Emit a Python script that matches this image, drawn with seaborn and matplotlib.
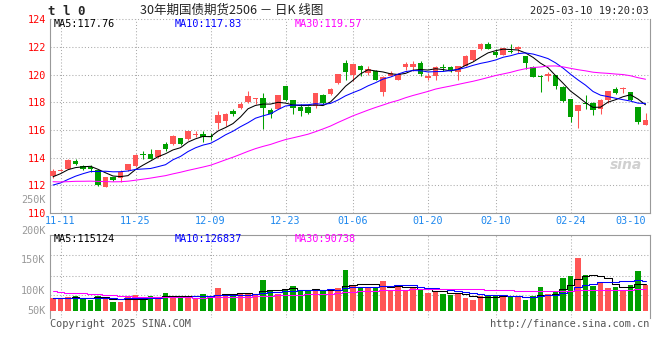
import matplotlib
matplotlib.use("Agg")
import matplotlib.pyplot as plt
import numpy as np
import pandas as pd
import seaborn as sns

# TL0 daily K-line, 2024-11-08 .. 2025-03-10 (80 sessions)
open_ = [112.70, 113.05, 113.20, 113.73, 113.40, 113.33, 113.10, 111.90, 112.62, 112.50,
         113.10, 113.38, 114.30, 114.30, 114.05, 115.00, 115.00, 115.40, 115.35, 115.65,
         115.70, 115.55, 116.50, 116.67, 117.38, 117.62, 118.02, 118.26, 118.33, 117.43,
         117.55, 119.17, 118.14, 117.67, 117.67, 117.74, 118.50, 118.57, 119.40, 120.83,
         120.00, 120.64, 120.12, 120.24, 118.74, 119.93, 119.64, 120.52, 120.55, 120.83,
         119.76, 119.88, 120.55, 120.52, 120.16, 120.66, 121.07, 121.88, 122.21, 121.66,
         121.43, 121.70, 121.88, 121.35, 120.54, 119.83, 119.88, 119.95, 119.12, 118.21,
         117.38, 117.90, 117.93, 117.50, 118.16, 118.97, 118.93, 118.78, 117.69, 116.36]
high = [113.20, 113.15, 113.90, 113.93, 113.50, 113.45, 113.10, 112.62, 112.62, 113.10,
        113.55, 114.30, 114.50, 114.64, 114.55, 115.12, 115.62, 115.45, 115.95, 115.95,
        115.95, 115.75, 117.38, 117.21, 117.50, 118.02, 118.81, 118.33, 118.64, 117.62,
        118.50, 119.17, 118.14, 117.86, 117.70, 118.64, 118.57, 119.00, 120.07, 121.07,
        120.79, 120.71, 120.60, 120.31, 119.88, 120.24, 120.10, 120.88, 121.00, 120.95,
        120.12, 120.60, 120.78, 120.64, 120.64, 121.40, 121.80, 122.31, 122.35, 121.83,
        121.95, 122.21, 122.07, 121.35, 120.64, 119.99, 120.16, 120.00, 119.16, 118.21,
        117.78, 118.50, 118.02, 118.26, 118.85, 119.12, 119.12, 118.78, 117.69, 117.26]
low = [112.50, 113.00, 113.15, 113.45, 113.10, 112.95, 111.95, 111.85, 112.30, 112.26,
       113.00, 113.30, 113.93, 113.88, 114.00, 114.50, 114.95, 114.90, 115.30, 115.50,
       115.12, 115.30, 116.07, 116.31, 116.98, 117.50, 117.93, 117.86, 116.07, 116.90,
       117.50, 118.10, 117.14, 117.02, 117.15, 117.62, 117.86, 118.50, 119.29, 119.60,
       119.52, 119.88, 120.00, 119.64, 118.45, 119.88, 119.60, 120.31, 120.24, 119.90,
       119.64, 119.64, 120.24, 120.16, 119.64, 120.60, 121.00, 121.78, 121.83, 121.31,
       121.40, 121.60, 121.55, 120.40, 119.83, 118.73, 119.52, 118.93, 118.02, 116.59,
       116.12, 117.50, 117.07, 117.14, 117.93, 118.59, 118.64, 118.07, 116.45, 116.36]
close = [113.00, 113.10, 113.85, 113.55, 113.20, 113.17, 112.02, 112.60, 112.38, 112.98,
         113.52, 114.21, 114.20, 113.88, 114.52, 114.60, 115.60, 115.00, 115.90, 115.70,
         115.47, 115.50, 117.07, 117.14, 117.14, 117.86, 118.45, 118.29, 117.62, 117.14,
         118.50, 118.17, 117.62, 117.38, 117.21, 118.64, 117.98, 118.93, 120.07, 120.19,
         120.79, 120.31, 120.40, 119.64, 119.83, 120.12, 120.07, 120.79, 120.80, 120.07,
         119.93, 120.54, 120.50, 120.31, 120.64, 121.35, 121.78, 122.21, 121.88, 121.43,
         121.90, 121.66, 122.02, 120.83, 119.83, 119.80, 120.04, 119.16, 118.09, 116.97,
         117.78, 117.88, 117.45, 118.16, 118.80, 118.64, 118.97, 118.16, 116.59, 116.74]
volume_k = [54, 51, 57, 64, 54, 48, 64, 54, 38, 38,
            61, 66, 54, 64, 56, 75, 64, 64, 54, 54,
            71, 64, 96, 64, 68, 75, 75, 71, 129, 87,
            71, 92, 105, 87, 82, 87, 82, 92, 96, 171,
            108, 96, 96, 100, 125, 87, 108, 84, 96, 87,
            75, 84, 71, 66, 71, 54, 46, 63, 66, 63,
            66, 60, 63, 46, 63, 100, 71, 84, 138, 147,
            220, 150, 105, 117, 96, 100, 87, 110, 165, 110]

# earlier sessions (not drawn), only there so the moving averages start where sina's do
prev_close = [113.6, 113.2, 112.8, 113.1, 112.9, 112.6, 112.9, 113.0, 112.7, 112.4,
              112.1, 111.9, 111.6, 111.8, 112.0, 111.7, 111.5, 111.9, 112.1, 111.8,
              111.6, 111.3, 111.2, 111.4, 111.6, 112.0, 112.4, 112.8, 112.9]
prev_volume_k = [130, 142, 118, 105, 126, 98, 112, 121, 104, 103,
                 88, 79, 92, 71, 76, 83, 68, 74, 72, 69,
                 52, 49, 58, 47, 50, 56, 53, 58, 57]

date_ticks = [1, 11, 21, 31, 40, 50, 59, 69, 79]
date_labels = ["11-11", "11-25", "12-09", "12-23", "01-06", "01-20", "02-10", "02-24", "03-10"]
price_ticks = [110, 112, 114, 116, 118, 120, 122, 124]
price_ma_text = ["MA5:117.76", "MA10:117.83", "MA30:119.57"]
vol_ma_text = ["MA5:115124", "MA10:126837", "MA30:90738"]
# sina prints its volume labels at odd heights; these are where they land (in K)
vol_label_text = ["250K", "200K", "150K", "100K", "50K"]
vol_label_at = [463, 334, 213, 84, 0]

RED = "#ff5555"
GREEN = "#00a000"
GRID = "#aaaaaa"
EDGE = "#999999"
MA_COLORS = ["black", "blue", "magenta"]
MONO = "DejaVu Sans Mono"

sns.set_theme(style="white")
plt.rcParams["font.family"] = [MONO]

W, H = 660, 360
fig = plt.figure(figsize=(W / 100, H / 100), dpi=100)


def rect(l, t, r, b):
    return [l / W, 1 - b / H, (r - l) / W, (b - t) / H]


ax = fig.add_axes(rect(50, 19.3, 649.5, 213))
axv = fig.add_axes(rect(50, 234.5, 649.5, 318))

o, h, lo, c = map(np.asarray, (open_, high, low, close))
idx = np.arange(len(c))
colors = np.where(c >= o, RED, GREEN)

# candles
ax.vlines(idx, lo, h, colors=colors, linewidth=0.75, zorder=3)
ax.bar(idx, np.maximum(np.abs(c - o), 0.07), bottom=np.minimum(o, c),
       width=0.76, color=colors, linewidth=0, zorder=3)

full_close = pd.Series(np.r_[prev_close, close])
for n, col in zip([5, 10, 30], MA_COLORS):
    ma = full_close.rolling(n).mean().to_numpy()[len(prev_close):]
    sns.lineplot(x=idx, y=ma, ax=ax, color=col, linewidth=0.75, zorder=4)

# volume
vol = np.asarray(volume_k)
axv.bar(idx, vol, width=0.76, color=colors, linewidth=0, zorder=3)
full_vol = pd.Series(np.r_[prev_volume_k, volume_k], dtype=float)
for n, col in zip([5, 10, 30], MA_COLORS):
    ma = full_vol.rolling(n).mean().to_numpy()[len(prev_volume_k):]
    sns.lineplot(x=idx, y=ma, ax=axv, color=col, linewidth=0.75, zorder=4,
                 drawstyle="steps-mid")

for a in (ax, axv):
    a.set_xlim(-0.4, 79.53)
    for t in date_ticks[:-1]:
        a.axvline(t, color=GRID, linewidth=0.75, linestyle=(0, (1, 2)), zorder=1)
    a.set_xlabel("")
    a.set_ylabel("")
    for s in a.spines.values():
        s.set_color(EDGE)
        s.set_linewidth(0.8)

ax.set_ylim(110, 124)
for p in price_ticks[1:]:
    ax.axhline(p, color=GRID, linewidth=0.75, linestyle=(0, (1, 2)), zorder=1, clip_on=False)
ax.spines["top"].set_visible(False)
ax.set_yticks(price_ticks)
ax.set_yticklabels([str(p) for p in price_ticks])
ax.tick_params(axis="y", length=0, pad=3, labelcolor="red", labelsize=7.3)
ax.set_xticks(date_ticks)
ax.set_xticklabels(date_labels)
ax.tick_params(axis="x", length=0, pad=2.5, labelcolor="#1e88ee", labelsize=7.3)
ax.get_xticklabels()[-1].set_horizontalalignment("right")

axv.set_ylim(-29.2, 319.4)
for v in [65, 148, 232]:
    axv.axhline(v, color=GRID, linewidth=0.75, linestyle=(0, (1, 2)), zorder=1)
axv.spines["bottom"].set_visible(False)
axv.set_xticks([])
axv.set_yticks([])
for s, v in zip(vol_label_text, vol_label_at):
    axv.text(-0.008, v, s, transform=axv.get_yaxis_transform(), ha="right", va="center",
             color="#999999", fontsize=7.3, clip_on=False)

for a, texts, y in [(ax, price_ma_text, 0.976), (axv, vol_ma_text, 0.946)]:
    for s, col, x in zip(texts, MA_COLORS, [0.0067, 0.2085, 0.4087]):
        a.text(x, y, s, transform=a.transAxes, color=col, fontsize=7.3, va="center", ha="left")

# header / footer
fig.text(48 / W, 1 - 11.5 / H, "t l 0", fontsize=9, fontweight="bold", va="center", ha="left")
fig.text(140 / W, 1 - 10 / H, "30年期国债期货2506 － 日K 线图", fontsize=9,
         family=["Noto Sans CJK SC", "DejaVu Sans"], color="#222222", va="center", ha="left")
fig.text(649 / W, 1 - 11 / H, "2025-03-10 19:20:03", fontsize=7.5, va="center", ha="right")
fig.text(626 / W, 1 - 165 / H, "sina", fontsize=10, color="#d0d0d0", fontweight="bold",
         style="italic", family=["DejaVu Sans"], va="center", ha="center")
fig.text(50 / W, 1 - 324 / H, "Copyright 2025 SINA.COM", fontsize=7.4, color="#555555",
         va="center", ha="left")
fig.text(649 / W, 1 - 324 / H, "http://finance.sina.com.cn", fontsize=7.4, color="#555555",
         va="center", ha="right")

fig.savefig("out.png", dpi=100, facecolor="white")
